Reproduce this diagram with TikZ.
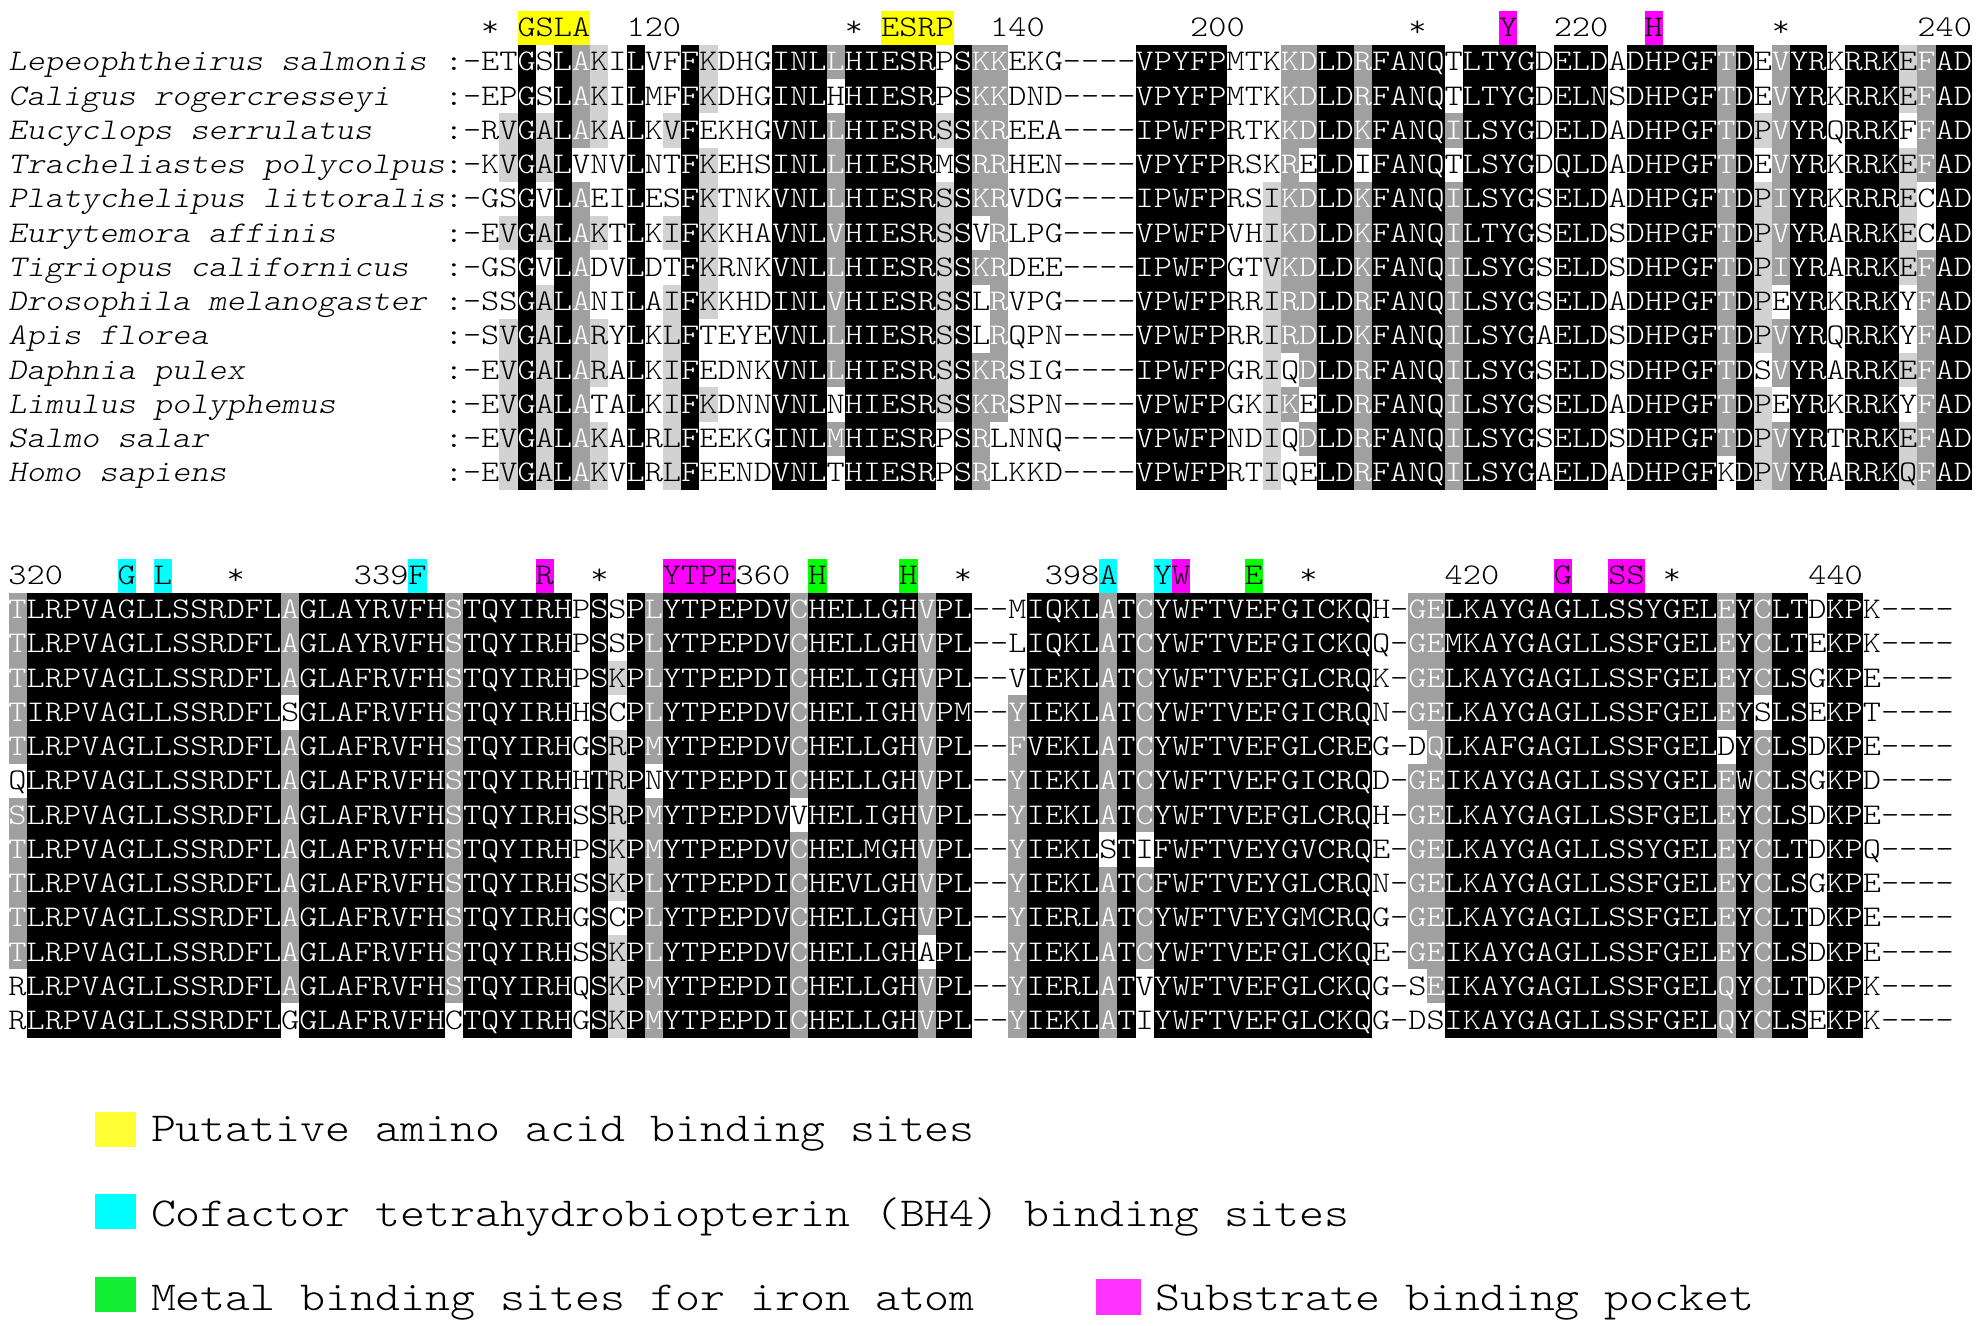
\documentclass[tikz,border=0pt]{standalone}
\usepackage{fontspec}
\newfontfamily\seqfont{lmmonolt10-regular.otf}[FakeStretch=1.1543]
\newfontfamily\namefont{lmmonolt10-oblique.otf}[FakeStretch=1.1543]
\newcommand\sqf{\seqfont\fontsize{15pt}{18pt}\selectfont}
\newcommand\nmf{\namefont\fontsize{15pt}{18pt}\selectfont}
\newcommand\lgf{\seqfont\fontsize{20.6pt}{24pt}\selectfont}
\definecolor{dgray}{RGB}{160,160,160}
\definecolor{lgray}{RGB}{210,210,210}
\definecolor{hyellow}{RGB}{255,255,0}
\definecolor{hcyan}{RGB}{0,255,255}
\definecolor{hmag}{RGB}{255,0,255}
\definecolor{hgreen}{RGB}{0,255,0}
\definecolor{lyellow}{RGB}{255,255,51}
\definecolor{lcyan}{RGB}{0,255,255}
\definecolor{lgreen}{RGB}{17,238,51}
\definecolor{lmag}{RGB}{255,51,255}
\def\cw{18.18}
\def\rh{34.23}
\def\bo{26}
\makeatletter
\newcount\cc
\def\storerow#1#2#3{\def\st@blk{#1}\def\st@row{#2}\global\cc=0 \st@loop#3\relax}
\def\st@loop#1{%
  \ifx#1\relax\else
    \expandafter\xdef\csname ch@\st@blk @\st@row @\the\cc\endcsname{#1}%
    \global\advance\cc by 1
    \expandafter\st@loop
  \fi}
\def\parsespec#1#2\relax{\def\lev{#1}\def\set{#2}}
\def\shdl{lgray}
\newcommand\drawblock[4]{%
  \foreach \sp [count=\ci from 0] in {#4}{%
    \expandafter\parsespec\sp\relax
    \foreach \r in {1,...,13}{%
      \edef\ch{\csname ch@#1@\r @\ci\endcsname}%
      \def\shd{}%
      \if b\lev \def\shd{black}\else
        \if n\lev \else
          \edef\@tmpa{\noexpand\in@{\ch}{\set}}\@tmpa
          \ifin@ \if d\lev \def\shd{dgray}\else \def\shd{lgray}\fi \fi
        \fi
      \fi
      \ifx\shd\@empty \def\tc{black}\else
        \fill[fill=\shd] ({#2+\ci*\cw},{#3+(\r-1)*\rh}) rectangle ({#2+(\ci+1)*\cw},{#3+\r*\rh});
        \ifx\shd\shdl \def\tc{black}\else \def\tc{white}\fi
      \fi
      \node[cellt,text=\tc] (#1-\r-\ci) at ({#2+(\ci+0.5)*\cw},{#3+(\r-1)*\rh+\bo}) {\ch};
    }%
  }%
}
\makeatother
\newcommand\hlab[7]{%
  \ifx\relax#7\relax\else
    \fill[fill=#7] ({#2+#4*\cw},#3) rectangle ({#2+(#4+#5)*\cw},{#3+\rh});
  \fi
  \node[lab] (#1) at ({#2+#4*\cw},{#3+\bo}) {#6};}
\storerow{T}{1}{-ETGSLAKILVFFKDHGINLLHIESRPSKKEKG----VPYFPMTKKDLDRFANQTLTYGDELDADHPGFTDEVYRKRRKEFAD}
\storerow{T}{2}{-EPGSLAKILMFFKDHGINLHHIESRPSKKDND----VPYFPMTKKDLDRFANQTLTYGDELNSDHPGFTDEVYRKRRKEFAD}
\storerow{T}{3}{-RVGALAKALKVFEKHGVNLLHIESRSSKREEA----IPWFPRTKKDLDKFANQILSYGDELDADHPGFTDPVYRQRRKFFAD}
\storerow{T}{4}{-KVGALVNVLNTFKEHSINLLHIESRMSRRHEN----VPYFPRSKRELDIFANQTLSYGDQLDADHPGFTDEVYRKRRKEFAD}
\storerow{T}{5}{-GSGVLAEILESFKTNKVNLLHIESRSSKRVDG----IPWFPRSIKDLDKFANQILSYGSELDADHPGFTDPIYRKRRRECAD}
\storerow{T}{6}{-EVGALAKTLKIFKKHAVNLVHIESRSSVRLPG----VPWFPVHIKDLDKFANQILTYGSELDSDHPGFTDPVYRARRKECAD}
\storerow{T}{7}{-GSGVLADVLDTFKRNKVNLLHIESRSSKRDEE----IPWFPGTVKDLDKFANQILSYGSELDSDHPGFTDPIYRARRKEFAD}
\storerow{T}{8}{-SSGALANILAIFKKHDINLVHIESRSSLRVPG----VPWFPRRIRDLDRFANQILSYGSELDADHPGFTDPEYRKRRKYFAD}
\storerow{T}{9}{-SVGALARYLKLFTEYEVNLLHIESRSSLRQPN----VPWFPRRIRDLDKFANQILSYGAELDSDHPGFTDPVYRQRRKYFAD}
\storerow{T}{10}{-EVGALARALKIFEDNKVNLLHIESRSSKRSIG----IPWFPGRIQDLDRFANQILSYGSELDSDHPGFTDSVYRARRKEFAD}
\storerow{T}{11}{-EVGALATALKIFKDNNVNLNHIESRSSKRSPN----VPWFPGKIKELDRFANQILSYGSELDADHPGFTDPEYRKRRKYFAD}
\storerow{T}{12}{-EVGALAKALRLFEEKGINLMHIESRPSRLNNQ----VPWFPNDIQDLDRFANQILSYGSELDSDHPGFTDPVYRTRRKEFAD}
\storerow{T}{13}{-EVGALAKVLRLFEENDVNLTHIESRPSRLKKD----VPWFPRTIQELDRFANQILSYGAELDADHPGFKDPVYRARRKQFAD}
\storerow{B}{1}{TLRPVAGLLSSRDFLAGLAYRVFHSTQYIRHPSSPLYTPEPDVCHELLGHVPL--MIQKLATCYWFTVEFGICKQH-GELKAYGAGLLSSYGELEYCLTDKPK----}
\storerow{B}{2}{TLRPVAGLLSSRDFLAGLAYRVFHSTQYIRHPSSPLYTPEPDVCHELLGHVPL--LIQKLATCYWFTVEFGICKQQ-GEMKAYGAGLLSSFGELEYCLTEKPK----}
\storerow{B}{3}{TLRPVAGLLSSRDFLAGLAFRVFHSTQYIRHPSKPLYTPEPDICHELIGHVPL--VIEKLATCYWFTVEFGLCRQK-GELKAYGAGLLSSFGELEYCLSGKPE----}
\storerow{B}{4}{TIRPVAGLLSSRDFLSGLAFRVFHSTQYIRHHSCPLYTPEPDVCHELIGHVPM--YIEKLATCYWFTVEFGICRQN-GELKAYGAGLLSSFGELEYSLSEKPT----}
\storerow{B}{5}{TLRPVAGLLSSRDFLAGLAFRVFHSTQYIRHGSRPMYTPEPDVCHELLGHVPL--FVEKLATCYWFTVEFGLCREG-DQLKAFGAGLLSSFGELDYCLSDKPE----}
\storerow{B}{6}{QLRPVAGLLSSRDFLAGLAFRVFHSTQYIRHHTRPNYTPEPDICHELLGHVPL--YIEKLATCYWFTVEFGICRQD-GEIKAYGAGLLSSYGELEWCLSGKPD----}
\storerow{B}{7}{SLRPVAGLLSSRDFLAGLAFRVFHSTQYIRHSSRPMYTPEPDVVHELIGHVPL--YIEKLATCYWFTVEFGLCRQH-GELKAYGAGLLSSFGELEYCLSDKPE----}
\storerow{B}{8}{TLRPVAGLLSSRDFLAGLAFRVFHSTQYIRHPSKPMYTPEPDVCHELMGHVPL--YIEKLSTIFWFTVEYGVCRQE-GELKAYGAGLLSSYGELEYCLTDKPQ----}
\storerow{B}{9}{TLRPVAGLLSSRDFLAGLAFRVFHSTQYIRHSSKPLYTPEPDICHEVLGHVPL--YIEKLATCFWFTVEYGLCRQN-GELKAYGAGLLSSFGELEYCLSGKPE----}
\storerow{B}{10}{TLRPVAGLLSSRDFLAGLAFRVFHSTQYIRHGSCPLYTPEPDVCHELLGHVPL--YIERLATCYWFTVEYGMCRQG-GELKAYGAGLLSSFGELEYCLTDKPE----}
\storerow{B}{11}{TLRPVAGLLSSRDFLAGLAFRVFHSTQYIRHSSKPLYTPEPDVCHELLGHAPL--YIEKLATCYWFTVEFGLCKQE-GEIKAYGAGLLSSFGELEYCLSDKPE----}
\storerow{B}{12}{RLRPVAGLLSSRDFLAGLAFRVFHSTQYIRHQSKPMYTPEPDICHELLGHVPL--YIERLATVYWFTVEFGLCKQG-SEIKAYGAGLLSSFGELQYCLTDKPK----}
\storerow{B}{13}{RLRPVAGLLSSRDFLGGLAFRVFHCTQYIRHGSKPMYTPEPDICHELLGHVPL--YIEKLATIYWFTVEFGLCKQG-DSIKAYGAGLLSSFGELQYCLSEKPK----}
\tikzset{
  cellt/.style={anchor=base,inner sep=0pt,outer sep=0pt,font=\sqf},
  lab/.style={anchor=base west,inner sep=0pt,outer sep=0pt,font=\sqf,text=black},
  namest/.style={anchor=base west,inner sep=0pt,outer sep=0pt,font=\nmf,text=black},
  legt/.style={anchor=base west,inner sep=0pt,outer sep=0pt,font=\lgf,text=black},
}
\begin{document}
\begin{tikzpicture}[x=0.5pt,y=-0.5pt]
\useasboundingbox (0,0) rectangle (1976,1326);
\fill[white] (0,0) rectangle (1976,1326);
% ---- top block ----
\foreach \nm [count=\r] in {Lepeophtheirus salmonis,Caligus rogercresseyi,Eucyclops serrulatus,Tracheliastes polycolpus,Platychelipus littoralis,Eurytemora affinis,Tigriopus californicus,Drosophila melanogaster,Apis florea,Daphnia pulex,Limulus polyphemus,Salmo salar,Homo sapiens}{
  \node[namest] (name-\r) at (8.5,{45+(\r-1)*\rh+\bo}) {\nm};
  \node[cellt] (colon-\r) at ({463-0.5*\cw},{45+(\r-1)*\rh+\bo}) {:};
}
\drawblock{T}{463}{45}{n,n,lV,b,lA,b,dA,lKR,n,b,n,lVILM,b,lKR,n,n,n,b,b,b,dLIVM,b,b,b,b,b,lS,b,dKR,dKR,n,n,n,n,n,n,n,b,b,b,b,b,n,n,lLIVM,dKR,dD,b,b,dKR,b,b,b,b,dLIVM,b,b,b,b,n,b,b,b,n,b,b,b,b,b,dT,b,lP,dLIVM,b,b,n,b,b,b,lEQ,dF,b,b}
\hlab{th1}{463}{10.8}{1}{1}{*}{}
\hlab{th2}{463}{10.8}{3}{4}{GSLA}{hyellow}
\hlab{th3}{463}{10.8}{9}{3}{120}{}
\hlab{th4}{463}{10.8}{21}{1}{*}{}
\hlab{th5}{463}{10.8}{23}{4}{ESRP}{hyellow}
\hlab{th6}{463}{10.8}{29}{3}{140}{}
\hlab{th7}{463}{10.8}{40}{3}{200}{}
\hlab{th8}{463}{10.8}{52}{1}{*}{}
\hlab{th9}{463}{10.8}{57}{1}{Y}{hmag}
\hlab{th10}{463}{10.8}{60}{3}{220}{}
\hlab{th11}{463}{10.8}{65}{1}{H}{hmag}
\hlab{th12}{463}{10.8}{72}{1}{*}{}
\hlab{th13}{463}{10.8}{80}{3}{240}{}
% ---- bottom block ----
\drawblock{B}{8.5}{592.7}{dST,b,b,b,b,b,b,b,b,b,b,b,b,b,b,dA,b,b,b,b,b,b,b,b,dS,b,b,b,b,b,b,n,b,lKR,b,dLIVM,b,b,b,b,b,b,b,dC,b,b,b,b,b,b,dV,b,b,n,n,dFYW,b,b,b,b,dA,b,dC,b,b,b,b,b,b,b,b,b,b,b,b,n,n,dG,dEQ,b,b,b,b,b,b,b,b,b,b,b,b,b,b,b,dEQ,b,dC,b,b,n,b,b,n,n,n,n,n}
\hlab{bh1}{8.5}{558.5}{0}{3}{320}{}
\hlab{bh2}{8.5}{558.5}{6}{1}{G}{hcyan}
\hlab{bh3}{8.5}{558.5}{8}{1}{L}{hcyan}
\hlab{bh4}{8.5}{558.5}{12}{1}{*}{}
\hlab{bh5}{8.5}{558.5}{19}{3}{339}{}
\hlab{bh6}{8.5}{558.5}{22}{1}{F}{hcyan}
\hlab{bh7}{8.5}{558.5}{29}{1}{R}{hmag}
\hlab{bh8}{8.5}{558.5}{32}{1}{*}{}
\hlab{bh9}{8.5}{558.5}{36}{4}{YTPE}{hmag}
\hlab{bh10}{8.5}{558.5}{40}{3}{360}{}
\hlab{bh11}{8.5}{558.5}{44}{1}{H}{hgreen}
\hlab{bh12}{8.5}{558.5}{49}{1}{H}{hgreen}
\hlab{bh13}{8.5}{558.5}{52}{1}{*}{}
\hlab{bh14}{8.5}{558.5}{57}{3}{398}{}
\hlab{bh15}{8.5}{558.5}{60}{1}{A}{hcyan}
\hlab{bh16}{8.5}{558.5}{63}{1}{Y}{hcyan}
\hlab{bh17}{8.5}{558.5}{64}{1}{W}{hmag}
\hlab{bh18}{8.5}{558.5}{68}{1}{E}{hgreen}
\hlab{bh19}{8.5}{558.5}{71}{1}{*}{}
\hlab{bh20}{8.5}{558.5}{79}{3}{420}{}
\hlab{bh21}{8.5}{558.5}{85}{1}{G}{hmag}
\hlab{bh22}{8.5}{558.5}{88}{2}{SS}{hmag}
\hlab{bh23}{8.5}{558.5}{91}{1}{*}{}
\hlab{bh24}{8.5}{558.5}{99}{3}{440}{}
% ---- legend ----
\fill[lyellow] (94.5,1111.7) rectangle (136,1146.7);
\node[legt] (leg1) at (151,1141.7) {Putative amino acid binding sites};
\fill[lcyan] (94.5,1194) rectangle (136,1229.3);
\node[legt] (leg2) at (151,1226.7) {Cofactor tetrahydrobiopterin (BH4) binding sites};
\fill[lgreen] (94.5,1276.7) rectangle (136,1312.3);
\node[legt] (leg3) at (151,1310.5) {Metal binding sites for iron atom};
\fill[lmag] (1096,1279) rectangle (1140.5,1315);
\node[legt] (leg4) at (1155.5,1310.5) {Substrate binding pocket};
\end{tikzpicture}
\end{document}
